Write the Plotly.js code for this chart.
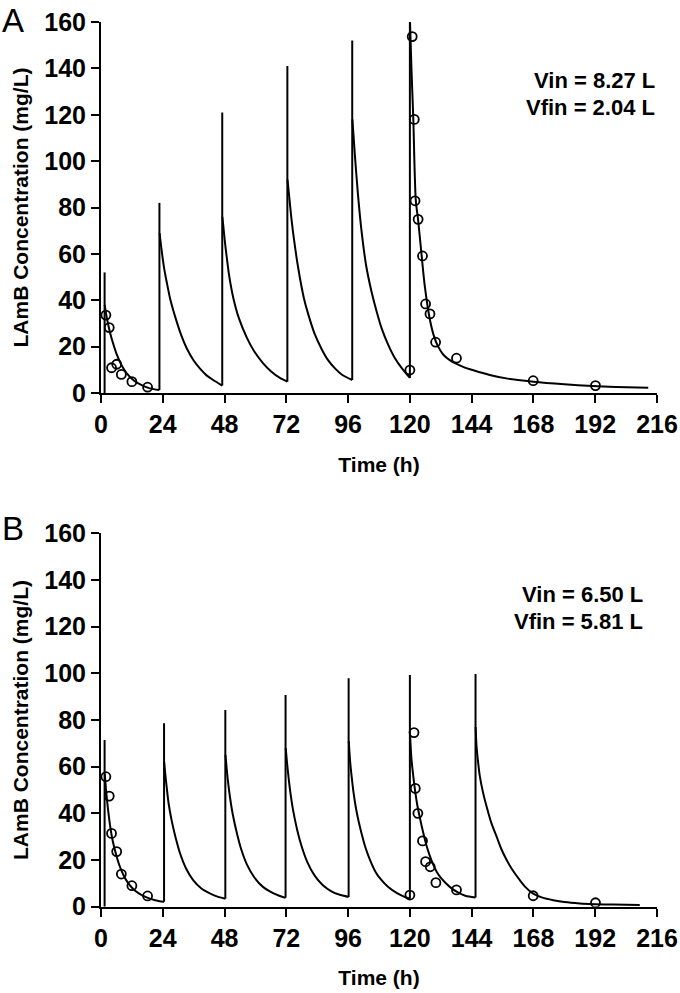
<!DOCTYPE html>
<html>
<head>
<meta charset="utf-8">
<script src="https://cdn.plot.ly/plotly-3.0.1.min.js"></script>
<style>html,body{margin:0;padding:0;background:#fff;}#chart{width:680px;height:993px;}</style>
</head>
<body>
<div id="chart"></div>
<script>
// ---------- Panel A data ----------
const A_doseTime = [1.4, 22.7, 47.1, 72.4, 97.6, 120];
const A_trough   = [0, 1.3, 3.2, 4.9, 5.6, 6.5];
const A_peak     = [52, 82, 121, 141, 152, 161];

const A_c1_t = [1.45, 2, 3, 4, 6, 8, 10, 13, 16, 19, 22.7];
const A_c1_y = [38, 34, 28.5, 24, 17, 12, 8.5, 5.2, 3.3, 2.0, 1.3];
const A_c2_t = [22.75, 23.5, 24.5, 25.5, 27, 29.4, 31.5, 33.3, 36, 38.4, 41, 43.6, 47.1];
const A_c2_y = [69, 62, 54, 48, 40, 30.8, 24, 19.3, 14, 10.6, 7.6, 5.6, 3.2];
const A_c3_t = [47.15, 47.6, 48.2, 48.8, 49.8, 51.4, 53.5, 56.6, 59.5, 63, 66, 69.5, 72.4];
const A_c3_y = [76, 71, 64.5, 59, 50.5, 41, 32.5, 24, 18, 12.8, 9.4, 6.5, 4.9];
const A_c4_t = [72.45, 73, 74, 75, 76.6, 78.8, 80.5, 83, 85.7, 88, 90.9, 93.5, 97.6];
const A_c4_y = [92, 86, 75, 66, 54, 41, 34, 25.5, 19, 14.5, 10.6, 8, 5.6];
const A_c5_t = [97.65, 98.1, 98.6, 99.8, 101.2, 103, 105.1, 107, 109, 111.5, 114.2, 117, 120];
const A_c5_y = [118, 111, 103, 86, 70, 55, 43.7, 35.5, 28, 21, 15, 10.5, 6.5];
const A_c6_t = [120.05, 120.6, 121.3, 122.3, 123.2, 124.5, 125.8, 127.8, 129.5, 131, 133, 135.5, 140.7, 145, 151, 158, 168, 180, 191, 200, 212.6];
const A_c6_y = [160, 140, 119, 83, 74.6, 60, 46, 31.5, 24, 20, 16.5, 14.2, 11.3, 9.7, 7.8, 6.2, 4.9, 3.8, 3.0, 2.6, 2.3];

const A_obsT = [1.9, 3.2, 4.1, 6.1, 7.9, 12.0, 18.1, 120, 120.9, 121.7, 122.0, 123.2, 124.9, 126.1, 127.8, 130.0, 138.1, 167.9, 192.1];
const A_obsC = [33.6, 28.2, 10.9, 12.4, 8.0, 4.9, 2.5, 9.9, 153.7, 118, 82.9, 74.9, 59.1, 38.4, 34.1, 21.9, 15.0, 5.3, 3.2];

// ---------- Panel B data ----------
const B_doseTime = [1.4, 24.5, 48.3, 71.7, 96.2, 120, 145.5];
const B_trough   = [0, 2.1, 3.4, 3.8, 4.2, 3.4, 3.9];
const B_peak     = [71.4, 78.6, 84.3, 90.7, 97.9, 99.3, 99.7];

const B_c1_t = [1.45, 2.0, 2.6, 3.5, 4.4, 5.4, 7, 8.7, 10.5, 12.5, 15, 17.7, 21, 24.5];
const B_c1_y = [57, 49.5, 43, 35, 29, 24.3, 18.2, 13.6, 10.2, 7.6, 5.5, 4.0, 2.8, 2.1];
const B_c2_t = [24.55, 25, 25.5, 26.3, 27.4, 29, 30.7, 33, 35.8, 39, 42.3, 45, 48.3];
const B_c2_y = [62, 56.5, 51.4, 44, 37.2, 29.5, 22.9, 16.5, 11.4, 7.8, 5.7, 4.4, 3.4];
const B_c3_t = [48.35, 48.8, 49.3, 50.1, 51.2, 52.8, 54.5, 56.8, 59.6, 62.8, 66.1, 69, 71.7];
const B_c3_y = [65, 59.5, 54, 47, 39.5, 31.5, 24.5, 17.8, 12.5, 8.6, 6.2, 4.8, 3.8];
const B_c4_t = [71.75, 72.2, 72.7, 73.5, 74.6, 76.2, 77.9, 80.2, 83, 86.2, 89.5, 92.5, 96.2];
const B_c4_y = [68, 62.5, 57, 49.5, 41.5, 33, 26, 19, 13.3, 9.2, 6.6, 5.2, 4.2];
const B_c5_t = [96.25, 96.8, 97.4, 98.1, 99, 100.1, 101.2, 102.7, 104.7, 106.6, 108.5, 111.7, 115, 117.7, 120];
const B_c5_y = [71, 62, 55.5, 49, 42.5, 36.5, 31.5, 25.5, 19.5, 15, 12, 8.3, 5.8, 4.3, 3.4];
const B_c6_t = [120.05, 120.6, 121.2, 121.9, 122.8, 123.9, 125, 126.5, 128.5, 130.4, 132.3, 135.5, 138.8, 141.5, 145.5];
const B_c6_y = [74, 63.5, 57, 50.7, 44, 38, 32.5, 26, 19.5, 15, 12, 8.5, 6, 4.7, 3.9];
const B_c7_t = [145.55, 145.9, 146.5, 147.2, 148.4, 149.8, 151.6, 153.7, 155.6, 157.6, 160, 162.7, 165, 167.9, 171.5, 175.7, 180, 186, 192, 199, 209.3];
const B_c7_y = [77, 68.6, 62, 55.7, 49, 42.9, 36, 30, 24.5, 20, 15.5, 11.4, 8.3, 5.6, 3.9, 2.8, 2.0, 1.4, 1.1, 0.9, 0.7];

const B_obsT = [1.9, 3.2, 4.1, 6.1, 7.9, 12.0, 18.1, 120, 121.6, 122.1, 123.1, 124.9, 126.1, 127.9, 130.1, 138.1, 167.9, 192.1];
const B_obsC = [55.7, 47.4, 31.4, 23.6, 14, 9, 4.6, 5.0, 74.6, 50.7, 40, 28.2, 19.3, 17.1, 10.3, 7.2, 4.7, 1.7];

const xTicks = [0, 24, 48, 72, 96, 120, 144, 168, 192, 216];
const yTicks = [0, 20, 40, 60, 80, 100, 120, 140, 160];

const A_cycles = [[A_c1_t, A_c1_y], [A_c2_t, A_c2_y], [A_c3_t, A_c3_y], [A_c4_t, A_c4_y], [A_c5_t, A_c5_y], [A_c6_t, A_c6_y]];
const B_cycles = [[B_c1_t, B_c1_y], [B_c2_t, B_c2_y], [B_c3_t, B_c3_y], [B_c4_t, B_c4_y], [B_c5_t, B_c5_y], [B_c6_t, B_c6_y], [B_c7_t, B_c7_y]];

function spikeTrace(times, lows, highs, xa, ya) {
  const x = [], y = [];
  times.forEach((t, i) => { x.push(t, t, null); y.push(lows[i], highs[i], null); });
  return {x, y, xaxis: xa, yaxis: ya, mode: 'lines', type: 'scatter',
          line: {color: '#000', width: 2}, hoverinfo: 'skip', showlegend: false};
}
function decayTrace(cycles, xa, ya) {
  const x = [], y = [];
  cycles.forEach(c => { x.push(...c[0], null); y.push(...c[1], null); });
  return {x, y, xaxis: xa, yaxis: ya, mode: 'lines', type: 'scatter', connectgaps: false,
          line: {color: '#000', width: 2, shape: 'spline', smoothing: 0.8}, showlegend: false};
}
function obsTrace(t, c, xa, ya) {
  return {x: t, y: c, xaxis: xa, yaxis: ya, mode: 'markers', type: 'scatter',
          marker: {symbol: 'circle-open', size: 9, color: '#000', line: {width: 1.8, color: '#000'}},
          showlegend: false};
}

const data = [
  spikeTrace(A_doseTime, A_trough, A_peak, 'x', 'y'),
  decayTrace(A_cycles, 'x', 'y'),
  obsTrace(A_obsT, A_obsC, 'x', 'y'),
  spikeTrace(B_doseTime, B_trough, B_peak, 'x2', 'y2'),
  decayTrace(B_cycles, 'x2', 'y2'),
  obsTrace(B_obsT, B_obsC, 'x2', 'y2')
];

const tickFont = {family: 'Liberation Sans, Arial, sans-serif', size: 25, color: '#000', weight: 700};
const titleFont = {family: 'Liberation Sans, Arial, sans-serif', size: 21, color: '#000', weight: 700};

function xAxis(domain, anchor) {
  return {domain, anchor, range: [0, 216], tickvals: xTicks, ticktext: xTicks.map(String),
          showline: true, linewidth: 2, linecolor: '#000', ticks: 'outside', ticklen: 8, tickwidth: 2,
          tickcolor: '#000', showgrid: false, zeroline: false, tickfont: tickFont,
          title: {text: 'Time (h)', font: titleFont, standoff: 20}, fixedrange: true};
}
function yAxis(domain, anchor) {
  return {domain, anchor, range: [0, 160], tickvals: yTicks, ticktext: yTicks.map(String),
          showline: true, linewidth: 2, linecolor: '#000', ticks: 'outside', ticklen: 8, tickwidth: 2,
          tickcolor: '#000', showgrid: false, zeroline: false, tickfont: tickFont,
          title: {text: 'LAmB Concentration (mg/L)', font: titleFont, standoff: 10}, fixedrange: true};
}

const W = 680, H = 993;
const xDom = [101 / W, 657 / W];
const annFont = {family: 'Liberation Sans, Arial, sans-serif', size: 22, color: '#000', weight: 700};
const labelFont = {family: 'Liberation Sans, Arial, sans-serif', size: 33, color: '#000'};

const layout = {
  width: W, height: H,
  margin: {l: 0, r: 0, t: 0, b: 0},
  paper_bgcolor: '#fff', plot_bgcolor: '#fff',
  showlegend: false,
  xaxis: xAxis(xDom, 'y'),
  yaxis: yAxis([1 - 393 / H, 1 - 22 / H], 'x'),
  xaxis2: xAxis(xDom, 'y2'),
  yaxis2: yAxis([1 - 906.7 / H, 1 - 533.3 / H], 'x2'),
  annotations: [
    {text: 'A', xref: 'paper', yref: 'paper', x: 0, y: 1 - 20 / H, xanchor: 'left', yanchor: 'middle', showarrow: false, font: labelFont},
    {text: 'B', xref: 'paper', yref: 'paper', x: 0, y: 1 - 528 / H, xanchor: 'left', yanchor: 'middle', showarrow: false, font: labelFont},
    {text: 'Vin = 8.27 L', xref: 'paper', yref: 'paper', x: 657 / W, y: 1 - 81 / H, xanchor: 'right', yanchor: 'middle', showarrow: false, font: annFont},
    {text: 'Vfin = 2.04 L', xref: 'paper', yref: 'paper', x: 657 / W, y: 1 - 108 / H, xanchor: 'right', yanchor: 'middle', showarrow: false, font: annFont},
    {text: 'Vin = 6.50 L', xref: 'paper', yref: 'paper', x: 645 / W, y: 1 - 594 / H, xanchor: 'right', yanchor: 'middle', showarrow: false, font: annFont},
    {text: 'Vfin = 5.81 L', xref: 'paper', yref: 'paper', x: 645 / W, y: 1 - 621 / H, xanchor: 'right', yanchor: 'middle', showarrow: false, font: annFont}
  ]
};

Plotly.newPlot('chart', data, layout, {staticPlot: true, displayModeBar: false});
</script>
</body>
</html>
